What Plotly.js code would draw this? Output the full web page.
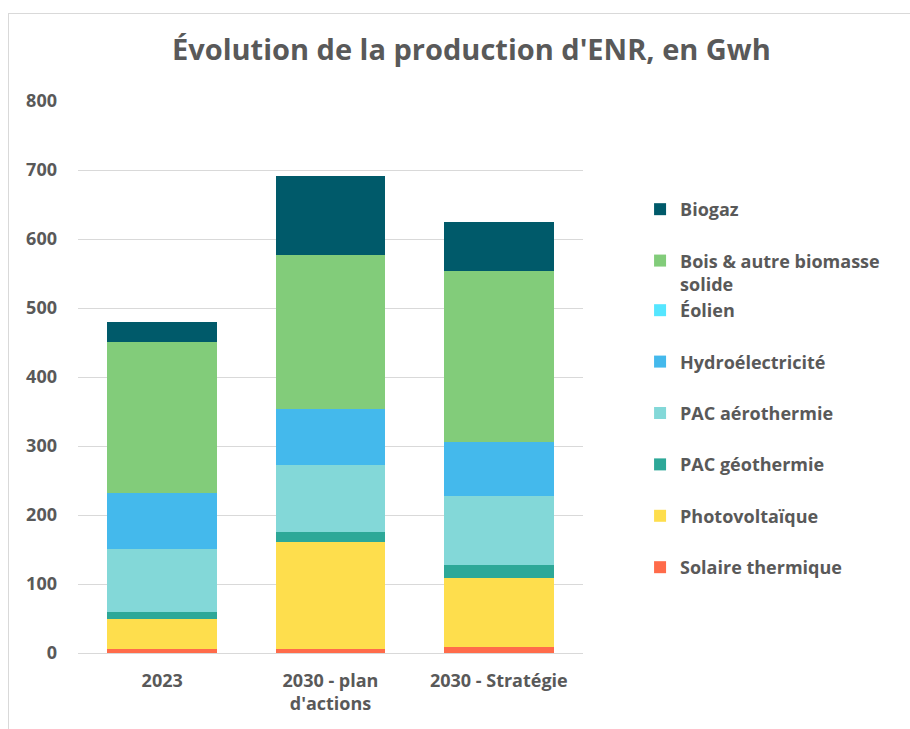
<!DOCTYPE html>
<html>
<head>
<meta charset="utf-8">
<script src="https://cdn.plot.ly/plotly-3.0.1.min.js"></script>
<style>
  body { margin: 0; background: #ffffff; }
  #frame { position: absolute; left: 8px; top: 13px; width: 1000px; height: 800px;
           border-left: 1px solid #d9d9d9; border-top: 1px solid #d9d9d9; }
  #chart { position: absolute; left: 0; top: 0; width: 910px; height: 729px; }
</style>
</head>
<body>
<div id="frame"></div>
<div id="chart"></div>
<script>
// scenarios on the x axis
var categories = ["2023", "2030 - plan<br>d'actions", "2030 - Stratégie"]

// GWh per source, bottom of the stack first
var solaireThermique = [6, 6, 9]
var photovoltaique = [44, 155, 99]
var pacGeothermie = [9, 14, 19]
var pacAerothermie = [92, 97, 100]
var hydroelectricite = [81, 82, 79]
var eolien = [0, 0, 0]
var bois = [219, 223, 248]
var biogaz = [29, 114, 71]

var yTicks = [0, 100, 200, 300, 400, 500, 600, 700, 800]

var grey = '#595959'
var font = 'Open Sans, sans-serif'

// rank = position in the legend (top first)
function bar(name, values, color, legend, rank) {
    return {
        x: categories,
        y: values,
        name: name,
        type: 'bar',
        marker: {color: color, line: {width: 0}},
        legend: legend,
        legendgroup: name,
        legendrank: rank,
        hoverinfo: 'skip'
    }
}

var data = [
    bar('Solaire thermique', solaireThermique, '#ff6b4a', 'legend2', 8),
    bar('Photovoltaïque', photovoltaique, '#fede4d', 'legend2', 7),
    bar('PAC géothermie', pacGeothermie, '#2da898', 'legend2', 6),
    bar('PAC aérothermie', pacAerothermie, '#83d8d8', 'legend2', 5),
    bar('Hydroélectricité', hydroelectricite, '#44b9ec', 'legend2', 4),
    bar('Éolien', eolien, '#55e6ff', 'legend2', 3),
    bar('Bois & autre biomasse<br>solide', bois, '#82cc7a', 'legend', 2),
    bar('Biogaz', biogaz, '#005a6a', 'legend', 1)
]

var legendStyle = {
    x: 1.113, xanchor: 'left',
    yanchor: 'top',
    traceorder: 'grouped',
    tracegroupgap: 25,
    valign: 'top',
    itemwidth: 30,
    font: {family: font, size: 18, color: grey, weight: 'bold'},
    bgcolor: 'rgba(0,0,0,0)'
}

var layout = {
    width: 910,
    height: 729,
    paper_bgcolor: 'rgba(0,0,0,0)',
    plot_bgcolor: 'rgba(0,0,0,0)',
    margin: {l: 78, r: 327, t: 101, b: 76},
    barmode: 'stack',
    bargap: 0.35,
    title: {
        text: "Évolution de la production d'ENR, en Gwh",
        x: 0.518, xanchor: 'center',
        y: 0.932, yanchor: 'middle',
        font: {family: font, size: 29, color: grey, weight: 'bold'}
    },
    xaxis: {
        type: 'category',
        showgrid: false,
        showline: true,
        linecolor: '#d9d9d9',
        linewidth: 1,
        ticks: '',
        ticklabelstandoff: 11,
        tickfont: {family: font, size: 18, color: grey, weight: 'bold'}
    },
    yaxis: {
        range: [0, 800],
        tickvals: yTicks,
        showgrid: true,
        gridcolor: '#d9d9d9',
        gridwidth: 1,
        zeroline: false,
        ticks: '',
        ticklabelstandoff: 20,
        tickfont: {family: font, size: 18, color: grey, weight: 'bold'}
    },
    legend: Object.assign({}, legendStyle, {y: 0.837}),
    legend2: Object.assign({}, legendStyle, {y: 0.654}),
    showlegend: true
}

Plotly.newPlot('chart', data, layout, {displayModeBar: false, staticPlot: true})
</script>
</body>
</html>
